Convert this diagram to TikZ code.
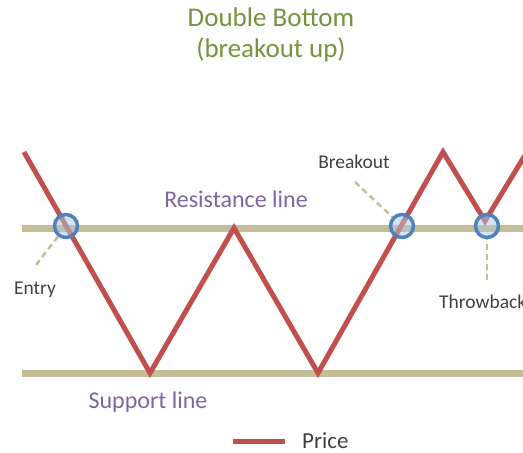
\documentclass[tikz,border=0pt]{standalone}
\usepackage{fontspec}
\setmainfont{Carlito}
\usetikzlibrary{positioning}
\definecolor{tanline}{HTML}{C4BD97}
\definecolor{pricered}{HTML}{C0504D}
\definecolor{ringblue}{HTML}{4F81BD}
\definecolor{titlegreen}{HTML}{77933C}
\definecolor{linepurple}{HTML}{8064A2}
\definecolor{labelgray}{HTML}{404040}

\begin{document}
\begin{tikzpicture}[x=1pt,y=-1pt,
  level/.style={tanline,line width=7pt},
  price/.style={pricered,line width=5pt,line join=miter},
  ring/.style={circle,draw=ringblue,line width=3.5pt,fill=ringblue!45,fill opacity=0.5,minimum size=23pt,inner sep=0pt},
  leader/.style={tanline,line width=2.5pt,dash pattern=on 6pt off 4pt},
  lbl/.style={font=\fontsize{19.5}{22}\selectfont,text=labelgray,inner sep=0pt},
  linelbl/.style={font=\fontsize{24}{28}\selectfont,text=linepurple,inner sep=0pt}]
    \useasboundingbox (0,0) rectangle (523,453);
    \clip (0,0) rectangle (523,453);
    % title
    \node[font=\fontsize{27}{31}\selectfont,text=titlegreen,align=center] (title) at (271,35) {Double Bottom\\(breakout up)};
    % support and resistance
    \coordinate (resL) at (22,228);
    \coordinate (resR) at (530,228);
    \coordinate (supL) at (22,373);
    \coordinate (supR) at (530,373);
    \draw[level] (resL) -- (resR);
    \draw[level] (supL) -- (supR);
    \node[linelbl] (reslbl) at (236,199) {Resistance line};
    \node[linelbl] (suplbl) at (148,402) {Support line};
    % price path
    \coordinate (p0) at (24,152);
    \coordinate (p1) at (150,373);
    \coordinate (p2) at (234,228);
    \coordinate (p3) at (318,373);
    \coordinate (p4) at (443,152);
    \coordinate (p5) at (485,221);
    \coordinate (p6) at (527,152);
    \draw[price] (p0) -- (p1) -- (p2) -- (p3) -- (p4) -- (p5) -- (p6);
    % marked points
    \node[ring] (entry) at (66,226) {};
    \node[ring] (brk) at (402,226) {};
    \node[ring] (thr) at (487,226) {};
    \coordinate (entryend) at (36,265);
    \coordinate (brkend) at (355,182);
    \coordinate (thrend) at (487,280);
    \draw[leader] (entryend) -- (entry);
    \draw[leader] (brkend) -- (brk);
    \draw[leader] (thrend) -- (thr);
    \node[lbl] (entrylbl) at (35,290) {Entry};
    \node[lbl] (brklbl) at (354,162) {Breakout};
    \node[lbl,anchor=west] (thrlbl) at (439,302) {Throwback};
    % legend
    \coordinate (leg1) at (233,441);
    \coordinate (leg2) at (285,441);
    \draw[price] (leg1) -- (leg2);
    \node[font=\fontsize{23}{26}\selectfont,text=labelgray,inner sep=0pt,anchor=west,right=17pt of leg2] (legtxt) {Price};
\end{tikzpicture}
\end{document}
